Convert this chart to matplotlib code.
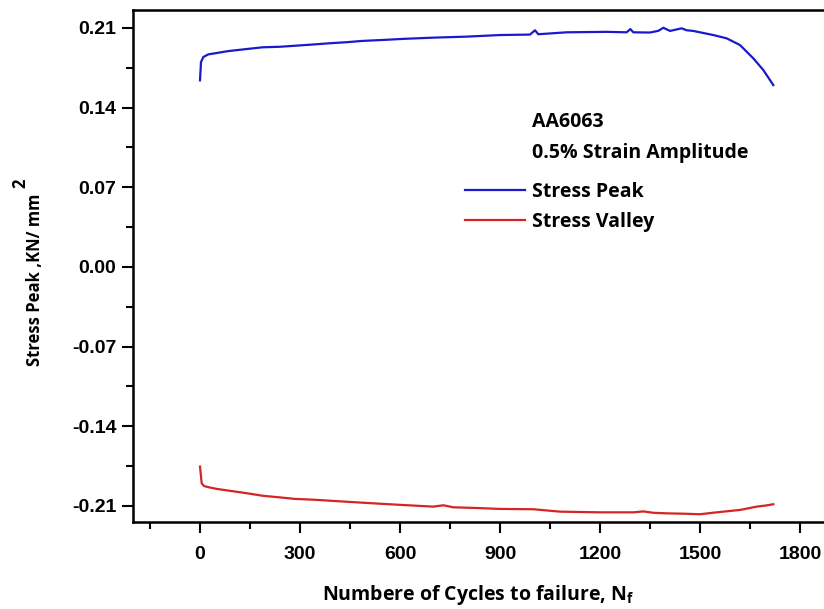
import matplotlib
matplotlib.use("Agg")
import matplotlib.pyplot as plt
from matplotlib.ticker import MultipleLocator, FixedLocator

# cycle number vs peak / valley stress (KN/mm^2), AA6063 at 0.5% strain amplitude
peak_cycles = [0, 3, 10, 25, 50, 85, 140, 187, 240, 285, 340, 385, 440, 485, 550, 615,
               700, 800, 900, 990, 1005, 1015, 1100, 1220, 1280, 1291, 1300, 1350, 1375,
               1390, 1410, 1445, 1460, 1480, 1540, 1580, 1620, 1660, 1690, 1720]
peak_stress = [0.164, 0.180, 0.1845, 0.1868, 0.188, 0.1897, 0.1915, 0.193, 0.1935, 0.1944,
               0.1955, 0.1965, 0.1975, 0.1986, 0.1995, 0.2005, 0.2015, 0.2024, 0.2038,
               0.2042, 0.2080, 0.2045, 0.2062, 0.2066, 0.2062, 0.2090, 0.2062, 0.2060,
               0.2075, 0.2102, 0.2074, 0.2097, 0.2080, 0.2074, 0.2038, 0.2009, 0.1950,
               0.1833, 0.1730, 0.1598]

valley_cycles = [0, 5, 12, 25, 50, 85, 140, 187, 240, 285, 340, 385, 440, 485, 550, 605,
                 700, 730, 760, 830, 900, 1000, 1080, 1200, 1300, 1330, 1360, 1400, 1450,
                 1500, 1550, 1620, 1670, 1700, 1720]
valley_stress = [-0.1754, -0.190, -0.1925, -0.1935, -0.195, -0.1965, -0.1988, -0.201,
                 -0.2025, -0.2038, -0.2045, -0.2053, -0.2063, -0.2071, -0.2082, -0.2091,
                 -0.2106, -0.2094, -0.2112, -0.2118, -0.2126, -0.2129, -0.2150, -0.2156,
                 -0.2156, -0.2148, -0.2160, -0.2165, -0.2168, -0.2173, -0.2156, -0.2135,
                 -0.2106, -0.2095, -0.2085]

x_ticks = [0, 300, 600, 900, 1200, 1500, 1800]
y_ticks = [-0.21, -0.14, -0.07, 0.00, 0.07, 0.14, 0.21]
y_tick_labels = ["-0.21", "-0.14", "-0.07", "0.00", "0.07", "0.14", "0.21"]

LABEL_FONT = "Open Sans"

plt.rcParams["mathtext.fontset"] = "custom"
plt.rcParams["mathtext.rm"] = "Open Sans:bold"
plt.rcParams["mathtext.it"] = "Open Sans:bold"
plt.rcParams["mathtext.bf"] = "Open Sans:bold"

fig = plt.figure(figsize=(8.24, 6.09), dpi=100)
ax = fig.add_axes([133 / 824, 87 / 609, 691 / 824, 512 / 609])

ax.plot(peak_cycles, peak_stress, color="#1a1acc", lw=1.6, label="Stress Peak")
ax.plot(valley_cycles, valley_stress, color="#d42424", lw=1.6, label="Stress Valley")

ax.set_xlim(-201, 1872)
ax.set_ylim(-0.2241, 0.2258)

ax.xaxis.set_major_locator(FixedLocator(x_ticks))
ax.xaxis.set_minor_locator(MultipleLocator(150))
ax.set_yticks(y_ticks)
ax.set_yticklabels(y_tick_labels)
ax.yaxis.set_minor_locator(FixedLocator([-0.175, -0.105, -0.035, 0.035, 0.105, 0.175]))

for lab in ax.get_xticklabels() + ax.get_yticklabels():
    lab.set_fontfamily("Liberation Sans")
    lab.set_fontweight("bold")
    lab.set_fontsize(14)

ax.tick_params(which="major", direction="out", length=8, width=1.5)
ax.tick_params(which="minor", direction="out", length=5, width=1.5)
ax.tick_params(axis="x", which="major", pad=9)
ax.tick_params(axis="y", which="major", pad=4)

for side in ["left", "bottom", "top"]:
    ax.spines[side].set_linewidth(1.8)
ax.spines["right"].set_visible(False)

ax.set_xlabel("Numbere of Cycles to failure, N$_{\\mathbf{f}}$", fontfamily=LABEL_FONT,
              fontweight="bold", fontsize=14, labelpad=15)

# y label, with the squared sign set as its own full size character
ax.set_ylabel("Stress Peak ,KN/ mm", fontfamily=LABEL_FONT, fontweight="bold", fontsize=12)
ax.yaxis.set_label_coords((44 - 133) / 691, (522 - 280) / 512)
ax.text((20 - 133) / 691, (522 - 183) / 512, "2", transform=ax.transAxes,
        fontfamily=LABEL_FONT, fontweight="bold", fontsize=12, rotation=90,
        ha="center", va="center")

# annotation block to the right of centre
ax.text(996, 0.1229, "AA6063", fontfamily=LABEL_FONT, fontweight="bold", fontsize=14,
        va="baseline", ha="left")
ax.text(996, 0.0956, "0.5% Strain Amplitude", fontfamily=LABEL_FONT, fontweight="bold",
        fontsize=14, va="baseline", ha="left")

leg = ax.legend(loc="upper left", bbox_to_anchor=((465 - 133) / 691, (522 - 182) / 512),
                frameon=False, borderpad=0, borderaxespad=0,
                handlelength=3.1, handletextpad=0.35, labelspacing=0.5,
                prop={"family": LABEL_FONT, "weight": "bold", "size": 14})

fig.savefig("out.png", dpi=100)
